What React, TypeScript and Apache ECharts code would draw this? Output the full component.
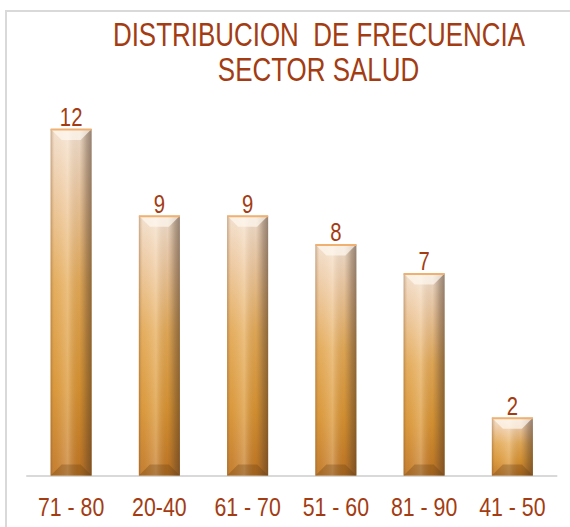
import React, { useEffect, useRef } from "react";
import * as echarts from "echarts";

const categories = ["71 - 80", "20-40", "61 - 70", "51 - 60", "81 - 90", "41 - 50"];
const values = [12, 9, 9, 8, 7, 2];
const titleLines = ["DISTRIBUCION  DE FRECUENCIA", "SECTOR SALUD"];

const RUST = "#a33c12";
const FONT = "'Liberation Sans', Arial, sans-serif";

export default function App() {
  const ref = useRef<HTMLDivElement>(null);
  useEffect(() => {
    document.body.style.margin = "0";
    if (!ref.current) return;
    const chart = echarts.init(ref.current, null, { renderer: "svg" });
    const renderItem = (params: any, api: any) => {
      const idx = api.value(0);
      const y = api.value(1);
      const top = api.coord([idx, y]);
      const bot = api.coord([idx, 0]);
      const w = api.size([1, 0])[0] * 0.465;
      const cx = top[0];
      const l = cx - w / 2;
      const r = cx + w / 2;
      const t = top[1];
      const b = bot[1];
      const h = b - t;
      const e = Math.min(11, w * 0.27, h / 3);
      return {
        type: "group",
        children: [
          {
            type: "rect",
            shape: { x: l, y: t, width: w, height: h },
            style: {
              fill: new echarts.graphic.LinearGradient(0, 0, 0, 1, [
                { offset: 0, color: "#f4e4d6" },
                { offset: 0.2, color: "#eec9a0" },
                { offset: 0.45, color: "#e4aa56" },
                { offset: 0.75, color: "#d8922e" },
                { offset: 1, color: "#c07420" },
              ]),
            },
          },
          {
            type: "rect",
            shape: { x: l, y: t, width: w, height: h },
            style: {
              fill: new echarts.graphic.LinearGradient(0, 0, 1, 0, [
                { offset: 0, color: "rgba(140,90,40,0.45)" },
                { offset: 0.1, color: "rgba(230,200,160,0.12)" },
                { offset: 0.42, color: "rgba(255,245,230,0.3)" },
                { offset: 0.7, color: "rgba(120,90,60,0.08)" },
                { offset: 0.88, color: "rgba(90,65,45,0.42)" },
                { offset: 1, color: "rgba(70,50,35,0.55)" },
              ]),
            },
          },
          {
            type: "polygon",
            shape: { points: [[l, t], [r, t], [r - e, t + e], [l + e, t + e]] },
            style: { fill: "rgba(255,248,240,0.7)" },
          },
          {
            type: "polygon",
            shape: { points: [[l, b], [r, b], [r - e, b - e], [l + e, b - e]] },
            style: { fill: "rgba(100,60,15,0.3)" },
          },
          {
            type: "line",
            shape: { x1: l, y1: t + 0.5, x2: r, y2: t + 0.5 },
            style: { stroke: "#f0b070", lineWidth: 2 },
          },
          {
            type: "text",
            x: cx,
            y: t + 1,
            scaleX: 0.78,
            style: {
              text: String(y),
              fill: RUST,
              font: `26px ${FONT}`,
              textAlign: "center",
              textVerticalAlign: "bottom",
            },
          },
          {
            type: "text",
            x: cx,
            y: b + 31,
            scaleX: 0.82,
            style: {
              text: categories[idx],
              fill: RUST,
              font: `26px ${FONT}`,
              textAlign: "center",
              textVerticalAlign: "middle",
            },
          },
        ],
      };
    };
    chart.setOption({
      animation: false,
      backgroundColor: "#ffffff",
      graphic: [
        {
          type: "rect",
          shape: { x: 6, y: 11, width: 600, height: 600 },
          style: { fill: "none", stroke: "#d9d9d9", lineWidth: 2 },
          silent: true,
        },
        {
          type: "text",
          x: 319,
          y: 34,
          scaleX: 0.763,
          style: {
            text: titleLines[0],
            fill: RUST,
            font: `34px ${FONT}`,
            textAlign: "center",
            textVerticalAlign: "middle",
          },
        },
        {
          type: "text",
          x: 318.5,
          y: 69,
          scaleX: 0.763,
          style: {
            text: titleLines[1],
            fill: RUST,
            font: `34px ${FONT}`,
            textAlign: "center",
            textVerticalAlign: "middle",
          },
        },
      ],
      grid: { left: 27, right: 13.5, top: 129, bottom: 51.5 },
      xAxis: {
        type: "category",
        data: categories,
        axisLine: { show: true, lineStyle: { color: "#d9d9d9", width: 2 } },
        axisTick: { show: false },
        axisLabel: { show: false },
      },
      yAxis: {
        type: "value",
        min: 0,
        max: 12,
        show: false,
        splitLine: { show: false },
      },
      series: [
        {
          type: "custom",
          renderItem,
          data: values.map((v, i) => [i, v]),
          clip: false,
          z: 2,
        },
      ],
    });
    return () => chart.dispose();
  }, []);
  return <div ref={ref} style={{ width: 570, height: 527 }} />;
}
